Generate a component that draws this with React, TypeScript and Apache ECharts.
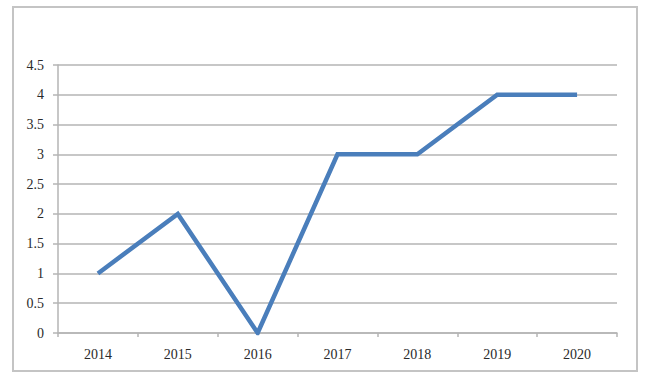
import React, { useEffect, useRef } from "react";
import * as echarts from "echarts";

const years = ["2014", "2015", "2016", "2017", "2018", "2019", "2020"];
const values = [1, 2, 0, 3, 3, 4, 4];

export default function App() {
  const ref = useRef<HTMLDivElement>(null);
  useEffect(() => {
    document.body.style.margin = "0";
    const chart = echarts.init(ref.current!, null, { renderer: "svg" });
    chart.setOption({
      animation: false,
      backgroundColor: "#ffffff",
      graphic: [
        {
          type: "rect",
          shape: { x: 13, y: 7, width: 624, height: 364 },
          style: { fill: "none", stroke: "#c4c4c4", lineWidth: 2 },
          silent: true,
        },
      ],
      grid: { left: 58, top: 65, right: 41, bottom: 49 },
      xAxis: {
        type: "category",
        data: years,
        boundaryGap: true,
        axisLine: { lineStyle: { color: "#b5b5b5", width: 1.5 } },
        axisTick: { show: true, inside: false, length: 4, alignWithLabel: false, lineStyle: { color: "#b5b5b5", width: 1.5 } },
        axisLabel: { color: "#2a2a2a", fontFamily: "Liberation Serif", fontSize: 14, margin: 14 },
        splitLine: { show: false },
      },
      yAxis: {
        type: "value",
        min: 0,
        max: 4.5,
        interval: 0.5,
        axisLine: { show: true, lineStyle: { color: "#b5b5b5", width: 1.5 } },
        axisTick: { show: true, length: 5, lineStyle: { color: "#b5b5b5", width: 1.5 } },
        axisLabel: { color: "#2a2a2a", fontFamily: "Liberation Serif", fontSize: 14, margin: 14 },
        splitLine: { show: true, lineStyle: { color: "#b5b5b5", width: 1.5 } },
      },
      series: [
        {
          type: "line",
          data: values,
          symbol: "none",
          lineStyle: { color: "#4a7ebb", width: 4.5, cap: "butt", join: "miter" },
          itemStyle: { color: "#4a7ebb" },
        },
      ],
    });
    return () => chart.dispose();
  }, []);
  return <div ref={ref} style={{ width: 658, height: 382 }} />;
}
